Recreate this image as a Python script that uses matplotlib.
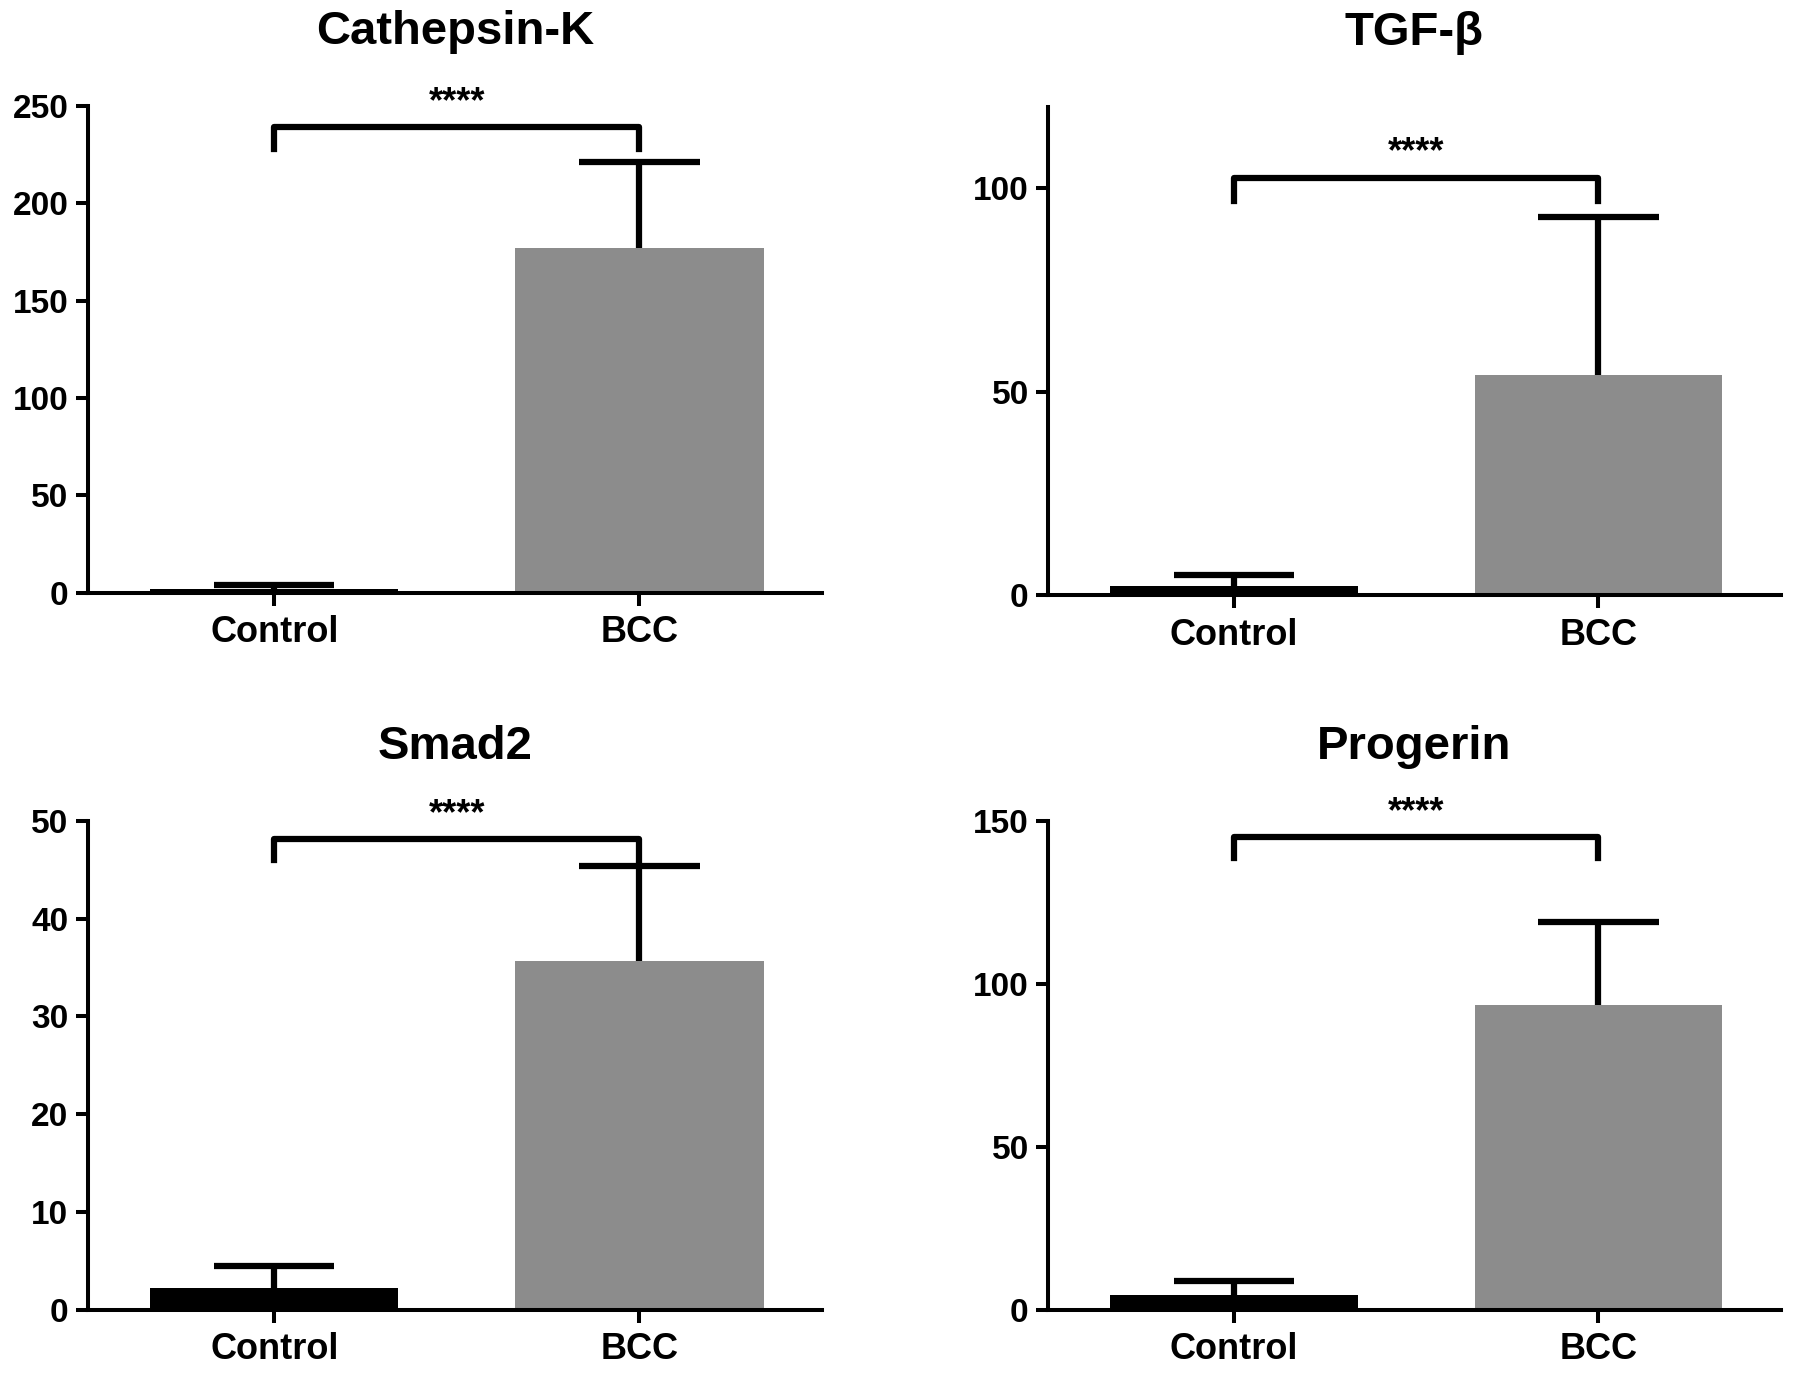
import numpy as np
import matplotlib.pyplot as plt

plt.rcParams['font.family'] = ['Liberation Sans', 'DejaVu Sans']
plt.rcParams['font.weight'] = 'bold'

groups = ["Control", "BCC"]

titles = ["Cathepsin-K", "TGF-β", "Smad2", "Progerin"]
means = [[1.8, 177], [2.3, 54], [2.2, 35.7], [4.6, 93.4]]
errors = [[2.2, 44], [2.8, 39], [2.3, 9.7], [4.2, 25.6]]
ymax = [250, 120, 50, 150]
yticks = [[0, 50, 100, 150, 200, 250], [0, 50, 100], [0, 10, 20, 30, 40, 50], [0, 50, 100, 150]]
bracket_top = [239, 102.5, 48.1, 145]
bracket_end = [227.6, 96.9, 46.0, 138.7]
stars = "****"

bar_colors = ["black", "#8c8c8c"]
positions = [[0.049, 0.569, 0.409, 0.354], [0.584, 0.567, 0.408, 0.3555],
             [0.049, 0.0475, 0.409, 0.3555], [0.584, 0.0475, 0.408, 0.3555]]

axis_lw = 2.9
line_lw = 4.5
fig = plt.figure(figsize=(17.95, 13.75), dpi=100)

for i in range(4):
    ax = fig.add_axes(positions[i])
    x = np.arange(len(groups))
    ax.bar(x, means[i], width=0.68, color=bar_colors, linewidth=0, zorder=1)
    # upward-only error bars
    tops = np.array(means[i]) + np.array(errors[i])
    ax.vlines(x, means[i], tops, color="black", linewidth=line_lw, zorder=2)
    ax.hlines(tops, x - 0.165, x + 0.165, color="black", linewidth=line_lw, zorder=2)

    # significance bracket
    ax.plot([0, 0, 1, 1], [bracket_end[i], bracket_top[i], bracket_top[i], bracket_end[i]],
            color="black", linewidth=line_lw, solid_joinstyle="round", clip_on=False)
    ax.annotate(stars, xy=(0.5, bracket_top[i]), xytext=(0, 11), textcoords="offset points",
                ha="center", va="baseline", fontsize=26, fontweight="bold", annotation_clip=False)

    ax.set_xlim(-0.51, 1.5)
    ax.set_ylim(0, ymax[i])
    ax.set_yticks(yticks[i])
    ax.set_xticks(x)
    ax.set_xticklabels(groups)
    for s in ["top", "right"]:
        ax.spines[s].set_visible(False)
    for s in ["left", "bottom"]:
        ax.spines[s].set_linewidth(axis_lw)
    ax.tick_params(axis="y", length=8.6, width=axis_lw, labelsize=24, pad=5.5)
    ax.tick_params(axis="x", length=9, width=axis_lw, labelsize=26, pad=7)
    ax.annotate(titles[i], xy=(0.5, 1), xycoords="axes fraction", xytext=(0, 53),
                textcoords="offset points", ha="center", va="center",
                fontsize=34, fontweight="bold")

fig.savefig("out.png", dpi=100)
